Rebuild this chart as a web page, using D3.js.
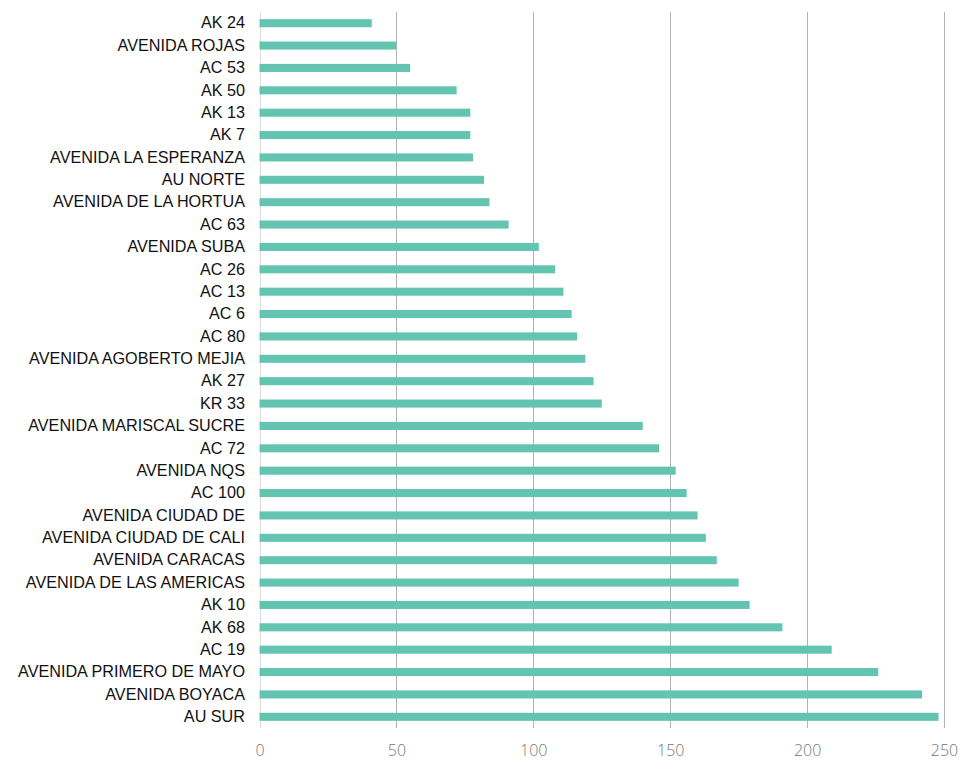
<!DOCTYPE html>
<html><head><meta charset="utf-8">
<script src="https://cdn.jsdelivr.net/npm/d3@7"></script>
<style>body{margin:0;background:#fff}</style>
</head><body><svg id="c" width="964" height="761"></svg>
<script>
const categories = ["AK 24","AVENIDA ROJAS","AC 53","AK 50","AK 13","AK 7","AVENIDA LA ESPERANZA","AU NORTE","AVENIDA DE LA HORTUA","AC 63","AVENIDA SUBA","AC 26","AC 13","AC 6","AC 80","AVENIDA AGOBERTO MEJIA","AK 27","KR 33","AVENIDA MARISCAL SUCRE","AC 72","AVENIDA NQS","AC 100","AVENIDA CIUDAD DE","AVENIDA CIUDAD DE CALI","AVENIDA CARACAS","AVENIDA DE LAS AMERICAS","AK 10","AK 68","AC 19","AVENIDA PRIMERO DE MAYO","AVENIDA BOYACA","AU SUR"];
const values = [41,50,55,72,77,77,78,82,84,91,102,108,111,114,116,119,122,125,140,146,152,156,160,163,167,175,179,191,209,226,242,248];
const xTicks = [0,50,100,150,200,250];

const svg = d3.select("#c");
const mLeft = 259.5, mRight = 944, mTop = 12, mBottom = 728;
const x = d3.scaleLinear().domain([0,250]).range([mLeft,mRight]);
const y = d3.scaleBand().domain(categories).range([mTop,mBottom]).paddingInner(0.64).paddingOuter(0.32);

// grid
svg.append("g").selectAll("line").data(xTicks).join("line")
  .attr("x1",d=>Math.round(x(d))+0.5).attr("x2",d=>Math.round(x(d))+0.5)
  .attr("y1",mTop).attr("y2",mBottom)
  .attr("stroke",d=>d===0?"#dcdcdc":"#b3b3b3").attr("stroke-width",1);

// bars
svg.append("g").selectAll("rect").data(values).join("rect")
  .attr("x",x(0)).attr("y",(d,i)=>y(categories[i]))
  .attr("width",d=>x(d)-x(0)).attr("height",y.bandwidth())
  .attr("fill","#63c5b1");

// y labels
const yAxis = d3.axisLeft(y).tickSize(0).tickPadding(14.5);
const gy = svg.append("g").attr("transform",`translate(${mLeft},0)`).call(yAxis);
gy.select(".domain").remove();
gy.selectAll("text").attr("font-family","'Liberation Sans', Arial, sans-serif").attr("font-size",16.2).attr("fill","#111");

// x labels
const xAxis = d3.axisBottom(x).tickValues(xTicks).tickSize(0).tickPadding(0).tickFormat(d3.format("d"));
const gx = svg.append("g").attr("transform",`translate(0,745)`).call(xAxis);
gx.select(".domain").remove();
gx.selectAll("text").attr("font-family","'Open Sans', sans-serif").attr("font-weight",300).attr("font-size",16).attr("fill","#777").attr("dy","0.71em");
</script></body></html>
